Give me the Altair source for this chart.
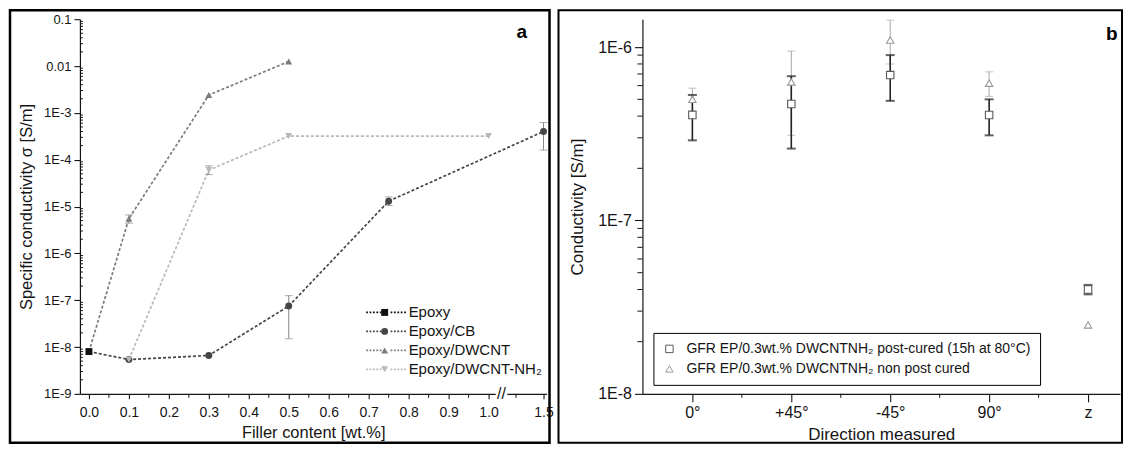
import json
import altair as alt
import pandas as pd

FONT = "Liberation Sans"
INK = "#151515"

# ---------------- Panel a data ----------------
series_a = ["Epoxy", "Epoxy/CB", "Epoxy/DWCNT", "Epoxy/DWCNT-NH₂"]
colors_a = ["#111111", "#464646", "#7c7c7c", "#b8b8b8"]
shapes_a = ["square", "circle", "triangle-up", "triangle-down"]

epoxy_x = [0.0]
epoxy_y = [8.0e-9]
cb_x = [0.0, 0.1, 0.3, 0.5, 0.75, 1.5]
cb_y = [8.0e-9, 5.4e-9, 6.6e-9, 7.5e-8, 1.3e-5, 4.0e-4]
dwcnt_x = [0.0, 0.1, 0.3, 0.5]
dwcnt_y = [8.0e-9, 5.5e-6, 2.4e-3, 1.25e-2]
nh2_x = [0.1, 0.3, 0.5, 1.0]
nh2_y = [5.4e-9, 6.0e-5, 3.2e-4, 3.2e-4]

err_a_series = ["Epoxy/CB", "Epoxy/CB", "Epoxy/CB", "Epoxy/DWCNT", "Epoxy/DWCNT-NH₂"]
err_a_x = [0.5, 0.75, 1.5, 0.1, 0.3]
err_a_lo = [1.5e-8, 1.05e-5, 1.6e-4, 4.4e-6, 4.8e-5]
err_a_hi = [1.25e-7, 1.6e-5, 6.2e-4, 6.6e-6, 7.4e-5]

x_major_a = [0.0, 0.1, 0.2, 0.3, 0.4, 0.5, 0.6, 0.7, 0.8, 0.9, 1.0, 1.5]
x_minor_a = [0.05, 0.15, 0.25, 0.35, 0.45, 0.55, 0.65, 0.75, 0.85, 0.95, 1.25]
y_major_a = [1e-9, 1e-8, 1e-7, 1e-6, 1e-5, 1e-4, 1e-3, 1e-2, 1e-1]
y_minor_a = [m * 10.0 ** k for k in range(-9, -1) for m in range(2, 10)]

# ---------------- Panel b data ----------------
directions = ["0°", "+45°", "-45°", "90°", "z"]
series_b = ["GFR EP/0.3wt.% DWCNTNH₂ post-cured (15h at 80°C)",
            "GFR EP/0.3wt.% DWCNTNH₂ non post cured"]
colors_b = ["#5a5a5a", "#9a9a9a"]
shapes_b = ["square", "triangle-up"]

post_val = [4.06e-7, 4.7e-7, 6.9e-7, 4.06e-7, 4.0e-8]
post_lo = [2.9e-7, 2.6e-7, 4.9e-7, 3.1e-7, 3.75e-8]
post_hi = [5.3e-7, 6.8e-7, 9.0e-7, 5.0e-7, 4.25e-8]
non_val = [5.0e-7, 6.3e-7, 1.1e-6, 6.2e-7, 2.5e-8]
non_lo = [4.3e-7, 3.1e-7, 8.0e-7, 5.2e-7, 2.5e-8]
non_hi = [5.8e-7, 9.5e-7, 1.43e-6, 7.2e-7, 2.5e-8]

x_major_b = [1, 2, 3, 4, 5]
x_minor_b = [1.5, 2.5, 3.5, 4.5]
y_major_b = [1e-8, 1e-7, 1e-6]
y_minor_b = [m * 10.0 ** k for k in range(-8, -6) for m in range(2, 10)]


# ---------------- helpers ----------------
def sq(v):
    """compress the x axis after the break at 1.0"""
    return v if v <= 1.0 else 1.0 + (v - 1.0) * 0.275


rows = []
for s, xs, ys in zip(series_a, [epoxy_x, cb_x, dwcnt_x, nh2_x], [epoxy_y, cb_y, dwcnt_y, nh2_y]):
    for i, (xv, yv) in enumerate(zip(xs, ys)):
        rows.append({"series": s, "series_line": s + " ", "x": xv, "xp": sq(xv), "y": yv, "i": i})
df_a = pd.DataFrame(rows)
draw_order = {"Epoxy/CB": 0, "Epoxy/DWCNT": 1, "Epoxy/DWCNT-NH₂": 2, "Epoxy": 3}
df_a_pts = df_a[(df_a["series"] == "Epoxy") | (df_a["x"] > 0)].copy()
df_a_pts["k"] = df_a_pts["series"].map(draw_order)
df_a_pts = df_a_pts.sort_values(["k", "i"]).reset_index(drop=True)

df_a_err = pd.DataFrame({"series": err_a_series, "xp": [sq(v) for v in err_a_x],
                         "lo": err_a_lo, "hi": err_a_hi})
df_xminor_a = pd.DataFrame({"v": [sq(v) for v in x_minor_a]})
df_yminor_a = pd.DataFrame({"v": y_minor_a})
df_xminor_b = pd.DataFrame({"v": x_minor_b})
df_yminor_b = pd.DataFrame({"v": y_minor_b})

one = pd.DataFrame({"a": [0]})


def dash_path(x0, x1, dash=0.9, gap=0.8):
    segs = []
    x = x0
    while x < x1 - 0.05:
        segs.append(f"M{x:.2f},0H{min(x + dash, x1):.2f}")
        x += dash + gap
    return "".join(segs)


# dotted line with a gap in the middle for the marker of the other legend
legend_line_path = dash_path(-10.0, -2.2) + dash_path(2.2, 10.0)

# ---------------- Panel a ----------------
W_A, H = 467, 375
xs_a = alt.Scale(domain=[-0.0225, 1.145], nice=False, zero=False)
ys_a = alt.Scale(type="log", domain=[1e-9, 0.1], nice=False)
col_a = alt.Scale(domain=series_a, range=colors_a)
col_a_line = alt.Scale(domain=[s + " " for s in series_a], range=colors_a)

ax_x_a = alt.Axis(orient="bottom", values=[sq(v) for v in x_major_a], format=".1f",
                  labelExpr="datum.value > 1.1 ? '1.5' : datum.label",
                  title="Filler content [wt.%]", tickSize=5, labelFontSize=14,
                  titleFontSize=16.5, labelPadding=7, titlePadding=5)
ax_y_a = alt.Axis(orient="left", values=y_major_a,
                  labelExpr="datum.value > 0.05 ? '0.1' : (datum.value > 0.005 ? '0.01' : "
                            "'1E' + round(log(datum.value) / LN10))",
                  title="Specific conductivity σ [S/m]", tickSize=6, labelFontSize=13,
                  titleFontSize=16.5, titlePadding=9, labelPadding=3, labelOverlap=False)

X_a = alt.X("xp:Q", scale=xs_a, axis=None)
Y_a_none = dict(scale=ys_a, axis=None)

frame_a = alt.Chart(one).mark_rect(fillOpacity=0, stroke="black", strokeWidth=2.5).encode(
    x=alt.value(-70), x2=alt.value(470), y=alt.value(-9), y2=alt.value(424))

leg_a_line = alt.Legend(orient="none", legendX=299, legendY=286, title=None, labelFont=FONT,
                        labelFontSize=15, labelColor=INK, symbolType=legend_line_path, symbolSize=16,
                        symbolStrokeWidth=1.6, labelOffset=15, rowPadding=3, padding=0, labelLimit=0)
lines_a = alt.Chart(df_a).mark_line(strokeDash=[3, 2], strokeWidth=1.7).encode(
    x=alt.X("xp:Q", scale=xs_a, axis=ax_x_a),
    y=alt.Y("y:Q", scale=ys_a, axis=ax_y_a),
    stroke=alt.Stroke("series_line:N", scale=col_a_line, legend=leg_a_line),
    detail="series:N",
    order=alt.Order("i:Q"),
)

minor_y_a = alt.Chart(df_yminor_a).mark_rule(color=INK, strokeWidth=1).encode(
    y=alt.Y("v:Q", **Y_a_none), x=alt.value(0), x2=alt.value(3))
minor_x_a = alt.Chart(df_xminor_a).mark_rule(color=INK, strokeWidth=1).encode(
    x=alt.X("v:Q", scale=xs_a, axis=None), y=alt.value(H), y2=alt.value(H + 4))

err_rule_a = alt.Chart(df_a_err).mark_rule(color="#8a8a8a", strokeWidth=1).encode(
    x=X_a, y=alt.Y("lo:Q", **Y_a_none), y2="hi:Q")
cap_lo_a = alt.Chart(df_a_err).mark_tick(orient="horizontal", size=8, thickness=1, color="#8a8a8a").encode(
    x=X_a, y=alt.Y("lo:Q", **Y_a_none))
cap_hi_a = alt.Chart(df_a_err).mark_tick(orient="horizontal", size=8, thickness=1, color="#8a8a8a").encode(
    x=X_a, y=alt.Y("hi:Q", **Y_a_none))

leg_a_pts = alt.Legend(orient="none", legendX=297.5, legendY=286, title=None, labelFont=FONT,
                       labelFontSize=15, labelExpr="''", symbolSize=48, symbolOpacity=1,
                       symbolStrokeWidth=0, rowPadding=3, padding=0)
points_a = alt.Chart(df_a_pts).mark_point(filled=True, size=48, opacity=1).encode(
    x=X_a,
    y=alt.Y("y:Q", **Y_a_none),
    color=alt.Color("series:N", scale=col_a, legend=leg_a_pts),
    shape=alt.Shape("series:N", scale=alt.Scale(domain=series_a, range=shapes_a), legend=leg_a_pts),
)

break_gap = alt.Chart(one).mark_rule(color="white", strokeWidth=5).encode(
    x=alt.XDatum(1.018, axis=None), x2=alt.X2Datum(1.047), y=alt.YDatum(1e-9, axis=None))
break_txt = alt.Chart(one).mark_text(text="//", fontSize=16, font=FONT, color=INK).encode(
    x=alt.XDatum(1.0325, axis=None), y=alt.YDatum(1e-9, axis=None))
label_a = alt.Chart(one).mark_text(text="a", fontSize=19, fontWeight="bold", font=FONT, color="black").encode(
    x=alt.XDatum(1.083, axis=None), y=alt.YDatum(0.053, axis=None))

panel_a = alt.layer(frame_a, lines_a, minor_y_a, minor_x_a, err_rule_a, cap_lo_a, cap_hi_a, points_a,
                    break_gap, break_txt, label_a).resolve_axis(
    x="independent", y="independent").properties(width=W_A, height=H)

# ---------------- Panel b ----------------
W_B = 478
SPACING = 96
xs_b = alt.Scale(domain=[0.495, 5.323], nice=False, zero=False)
ys_b = alt.Scale(type="log", domain=[1e-8, 1.45e-6], nice=False)
col_b = alt.Scale(domain=series_b, range=colors_b)

df_b = pd.DataFrame({
    "series": [series_b[0]] * 5 + [series_b[1]] * 5,
    "pos": [1, 2, 3, 4, 5] * 2,
    "val": post_val + non_val,
    "lo": post_lo + non_lo,
    "hi": post_hi + non_hi,
})
df_b_post = df_b[df_b["series"] == series_b[0]]
df_b_non = df_b[(df_b["series"] == series_b[1]) & (df_b["hi"] > df_b["lo"])]

ax_x_b = alt.Axis(orient="bottom", values=x_major_b,
                  labelExpr=json.dumps(directions, ensure_ascii=False) + "[round(datum.value) - 1]",
                  title="Direction measured", tickSize=8, labelFontSize=16, titleFontSize=17,
                  labelPadding=3, titlePadding=6, labelFlush=False)
ax_y_b = alt.Axis(orient="left", values=y_major_b, labelExpr="'1E' + round(log(datum.value) / LN10)",
                  title="Conductivity [S/m]", tickSize=8, labelFontSize=16, titleFontSize=17,
                  titlePadding=11, labelPadding=3)

X_b = alt.X("pos:Q", scale=xs_b, axis=None)
Y_b_none = dict(scale=ys_b, axis=None)

frame_b = alt.Chart(one).mark_rect(fillOpacity=0, stroke="black", strokeWidth=2).encode(
    x=alt.value(-84), x2=alt.value(480), y=alt.value(-9), y2=alt.value(424))

rule_non = alt.Chart(df_b_non).mark_rule(color="#a8a8a8", strokeWidth=1).encode(
    x=alt.X("pos:Q", scale=xs_b, axis=ax_x_b),
    y=alt.Y("lo:Q", scale=ys_b, axis=ax_y_b), y2="hi:Q")
minor_y_b = alt.Chart(df_yminor_b).mark_rule(color=INK, strokeWidth=1).encode(
    y=alt.Y("v:Q", **Y_b_none), x=alt.value(0), x2=alt.value(-5))
minor_x_b = alt.Chart(df_xminor_b).mark_rule(color=INK, strokeWidth=1).encode(
    x=alt.X("v:Q", scale=xs_b, axis=None), y=alt.value(H), y2=alt.value(H + 4))
cap_non_lo = alt.Chart(df_b_non).mark_tick(orient="horizontal", size=8, thickness=1, color="#a8a8a8").encode(
    x=X_b, y=alt.Y("lo:Q", **Y_b_none))
cap_non_hi = alt.Chart(df_b_non).mark_tick(orient="horizontal", size=8, thickness=1, color="#a8a8a8").encode(
    x=X_b, y=alt.Y("hi:Q", **Y_b_none))
rule_post = alt.Chart(df_b_post).mark_rule(color="#222222", strokeWidth=1.6).encode(
    x=X_b, y=alt.Y("lo:Q", **Y_b_none), y2="hi:Q")
cap_post_lo = alt.Chart(df_b_post).mark_tick(orient="horizontal", size=9, thickness=2, color="#222222").encode(
    x=X_b, y=alt.Y("lo:Q", **Y_b_none))
cap_post_hi = alt.Chart(df_b_post).mark_tick(orient="horizontal", size=9, thickness=2, color="#222222").encode(
    x=X_b, y=alt.Y("hi:Q", **Y_b_none))

leg_b = alt.Legend(orient="none", legendX=11, legendY=314, title=None, labelFont=FONT,
                   labelFontSize=14, labelColor=INK, symbolSize=55, symbolStrokeWidth=1,
                   strokeColor="black", fillColor="white", padding=9, rowPadding=6,
                   labelOffset=10, labelLimit=0)
points_b = alt.Chart(df_b).mark_point(filled=False, fill="white", size=55, strokeWidth=1.1, opacity=1).encode(
    x=X_b,
    y=alt.Y("val:Q", **Y_b_none),
    color=alt.Color("series:N", scale=col_b, legend=leg_b),
    shape=alt.Shape("series:N", scale=alt.Scale(domain=series_b, range=shapes_b), legend=leg_b),
)
label_b = alt.Chart(one).mark_text(text="b", fontSize=19, fontWeight="bold", font=FONT, color="black").encode(
    x=alt.XDatum(5.24, axis=None), y=alt.YDatum(1.19e-6, axis=None))

panel_b = alt.layer(frame_b, rule_non, minor_y_b, minor_x_b, cap_non_lo, cap_non_hi, rule_post,
                    cap_post_lo, cap_post_hi, points_b, label_b).resolve_axis(
    x="independent", y="independent").properties(width=W_B, height=H)

chart = alt.hconcat(panel_a, panel_b, spacing=SPACING, bounds="flush").resolve_scale(
    color="independent", shape="independent", stroke="independent"
).properties(
    padding=0, background="white"
).configure_view(stroke=None).configure_axis(
    labelFont=FONT, titleFont=FONT, titleFontWeight="normal", grid=False,
    domainColor=INK, tickColor=INK, labelColor=INK, titleColor=INK, domainWidth=1.2, tickWidth=1.1,
)

chart.save("out.html", embed_options={"renderer": "svg", "actions": False})
